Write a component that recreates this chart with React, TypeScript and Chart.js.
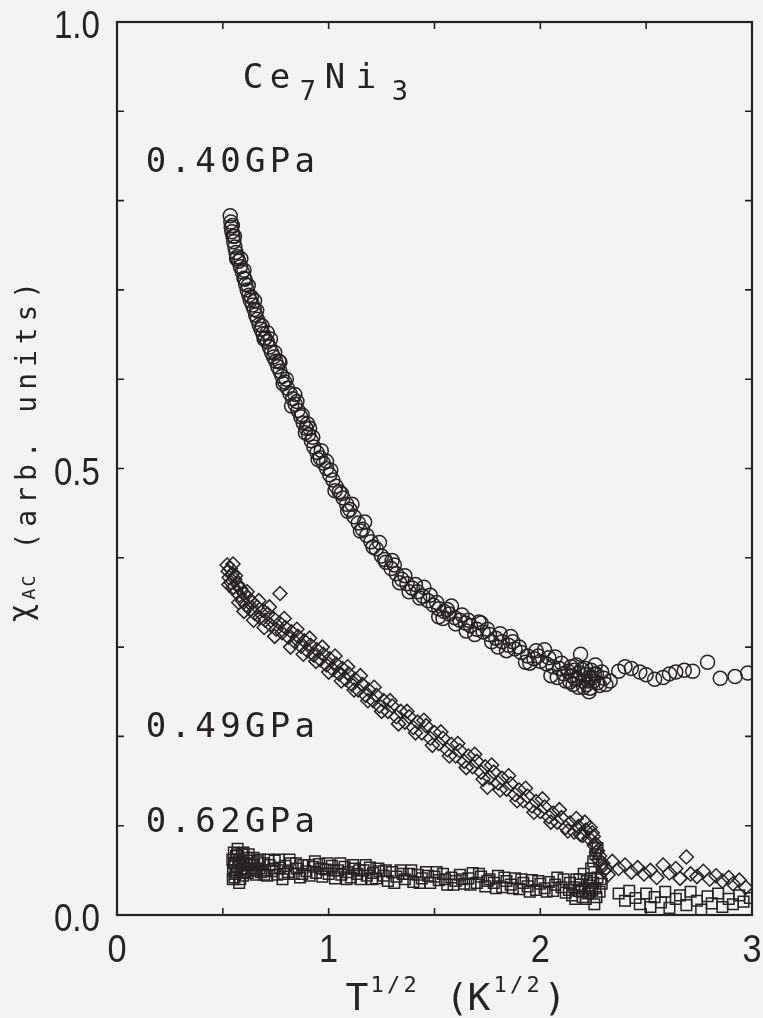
import React, { useEffect, useRef } from "react";
import { Chart, registerables } from "chart.js";
Chart.register(...registerables);

// ---- data: 0.40 GPa (circles)
const p040T = [
  0.535, 0.538, 0.540, 0.543, 0.548, 0.552, 0.557, 0.562, 0.568, 0.575, 0.583, 0.592, 0.600, 0.600, 0.608,
  0.615, 0.623, 0.630, 0.640, 0.648, 0.650, 0.655, 0.663, 0.672, 0.680, 0.690, 0.700, 0.710, 0.710, 0.720,
  0.730, 0.740, 0.750, 0.760, 0.770, 0.770, 0.780, 0.792, 0.805, 0.817, 0.830, 0.840, 0.842, 0.855, 0.868,
  0.880, 0.893, 0.900, 0.905, 0.918, 0.930, 0.945, 0.960, 0.975, 0.990, 0.990, 1.005, 1.020, 1.035, 1.050,
  1.068, 1.085, 1.100, 1.120, 1.140, 1.160, 1.180, 1.200, 1.225, 1.250, 1.270, 1.295, 1.300, 1.320, 1.345,
  1.370, 1.380, 1.395, 1.420, 1.445, 1.450, 1.470, 1.495, 1.520, 1.520, 1.545, 1.570, 1.580, 1.595, 1.620,
  1.645, 1.650, 1.670, 1.700, 1.720, 1.730, 1.760, 1.790, 1.800, 1.820, 1.850, 1.860, 1.880, 1.910, 1.930,
  1.940, 1.970, 1.980, 2.000, 2.020, 2.030, 2.050, 2.060, 2.070, 2.090, 2.110, 2.130, 2.140, 2.150, 2.160,
  2.170, 2.175, 2.185, 2.190, 2.200, 2.210, 2.220, 2.230, 2.230, 2.240, 2.250, 2.260, 2.265, 2.280, 2.300,
  2.330, 2.370, 2.400, 2.430, 2.470, 2.500, 2.540, 2.580, 2.610, 2.640, 2.680, 2.720, 2.790, 2.850, 2.920,
  2.980,
  0.545, 0.555, 0.565, 0.585, 0.605, 0.620, 0.635, 0.660, 0.685, 0.695, 0.725, 0.745, 0.765, 0.785, 0.800,
  0.825, 0.850, 0.875, 0.890, 0.910, 0.925, 0.950, 0.965, 1.010, 1.030, 1.060, 1.090, 1.110, 1.150, 1.170,
  1.210, 1.240, 1.265, 1.310, 1.335, 1.360, 1.410, 1.430, 1.480, 1.510, 1.540, 1.560, 1.600, 1.630, 1.660,
  1.690, 1.710, 1.750, 1.770, 1.810, 1.840, 1.870, 1.900, 1.950, 1.990, 2.040, 2.080, 2.100, 2.120, 2.145,
  2.155, 2.165, 2.180, 2.195, 2.205, 2.215, 2.225, 2.235, 2.245, 2.255, 2.270, 2.290, 2.310,
];
const p040Chi = [
  0.783, 0.776, 0.770, 0.765, 0.760, 0.754, 0.748, 0.742, 0.737, 0.732, 0.726, 0.720, 0.713, 0.722, 0.706,
  0.700, 0.694, 0.688, 0.683, 0.678, 0.688, 0.672, 0.667, 0.661, 0.656, 0.651, 0.646, 0.642, 0.652, 0.636,
  0.630, 0.625, 0.620, 0.614, 0.609, 0.619, 0.603, 0.597, 0.590, 0.584, 0.578, 0.583, 0.572, 0.565, 0.558,
  0.551, 0.545, 0.550, 0.538, 0.531, 0.524, 0.518, 0.512, 0.506, 0.500, 0.508, 0.493, 0.487, 0.480, 0.474,
  0.467, 0.460, 0.454, 0.446, 0.439, 0.432, 0.425, 0.418, 0.410, 0.402, 0.395, 0.388, 0.397, 0.382, 0.376,
  0.371, 0.362, 0.366, 0.362, 0.357, 0.367, 0.352, 0.347, 0.343, 0.334, 0.340, 0.337, 0.346, 0.333, 0.330,
  0.327, 0.318, 0.324, 0.320, 0.327, 0.317, 0.314, 0.310, 0.300, 0.306, 0.302, 0.312, 0.298, 0.294, 0.283,
  0.290, 0.287, 0.296, 0.284, 0.297, 0.281, 0.268, 0.278, 0.289, 0.276, 0.270, 0.273, 0.261, 0.268, 0.274,
  0.280, 0.265, 0.271, 0.292, 0.262, 0.269, 0.258, 0.266, 0.250, 0.274, 0.262, 0.280, 0.270, 0.257, 0.265,
  0.262, 0.273, 0.278, 0.276, 0.272, 0.269, 0.264, 0.266, 0.270, 0.272, 0.274, 0.273, 0.283, 0.265, 0.267,
  0.271,
  0.772, 0.760, 0.735, 0.735, 0.712, 0.705, 0.692, 0.677, 0.660, 0.645, 0.645, 0.630, 0.620, 0.595, 0.600,
  0.570, 0.575, 0.560, 0.540, 0.545, 0.535, 0.510, 0.520, 0.498, 0.475, 0.472, 0.452, 0.460, 0.430, 0.440,
  0.412, 0.417, 0.398, 0.392, 0.372, 0.380, 0.370, 0.355, 0.358, 0.350, 0.332, 0.342, 0.326, 0.336, 0.330,
  0.314, 0.328, 0.320, 0.306, 0.315, 0.296, 0.306, 0.300, 0.282, 0.290, 0.288, 0.266, 0.282, 0.262, 0.278,
  0.258, 0.264, 0.255, 0.275, 0.255, 0.276, 0.262, 0.254, 0.266, 0.270, 0.260, 0.272, 0.258,
];

// ---- data: 0.49 GPa (diamonds)
const p049T = [
  0.520, 0.525, 0.530, 0.535, 0.540, 0.545, 0.550, 0.556, 0.562, 0.570, 0.578, 0.585, 0.593, 0.600, 0.610,
  0.620, 0.630, 0.640, 0.650, 0.662, 0.675, 0.690, 0.700, 0.712, 0.725, 0.740, 0.752, 0.770, 0.768, 0.780,
  0.795, 0.810, 0.825, 0.840, 0.855, 0.870, 0.885, 0.900, 0.915, 0.930, 0.945, 0.960, 0.975, 0.990, 1.005,
  1.020, 1.035, 1.050, 1.065, 1.080, 1.095, 1.110, 1.125, 1.140, 1.160, 1.175, 1.190, 1.210, 1.225, 1.240,
  1.260, 1.280, 1.300, 1.320, 1.340, 1.360, 1.380, 1.400, 1.420, 1.440, 1.460, 1.480, 1.500, 1.520, 1.540,
  1.560, 1.580, 1.600, 1.620, 1.640, 1.660, 1.680, 1.700, 1.720, 1.740, 1.750, 1.760, 1.780, 1.800, 1.820,
  1.840, 1.860, 1.880, 1.900, 1.920, 1.940, 1.960, 1.980, 2.000, 2.020, 2.040, 2.060, 2.080, 2.100, 2.120,
  2.140, 2.160, 2.180, 2.200, 2.215, 2.230, 2.245, 2.255, 2.265, 2.275, 2.285, 2.300, 2.320, 2.340, 2.370,
  2.400, 2.430, 2.460, 2.490, 2.520, 2.550, 2.580, 2.610, 2.640, 2.660, 2.690, 2.710, 2.740, 2.770, 2.800,
  2.830, 2.860, 2.890, 2.910, 2.940, 2.970,
  0.528, 0.548, 0.560, 0.575, 0.600, 0.615, 0.645, 0.670, 0.695, 0.720, 0.745, 0.790, 0.820, 0.850, 0.880,
  0.910, 0.940, 0.970, 1.000, 1.030, 1.060, 1.090, 1.120, 1.150, 1.185, 1.215, 1.250, 1.290, 1.330, 1.370,
  1.410, 1.450, 1.490, 1.530, 1.570, 1.610, 1.650, 1.690, 1.730, 1.770, 1.810, 1.850, 1.890, 1.930, 1.970,
  2.010, 2.050, 2.090, 2.130, 2.170, 2.190, 2.210, 2.235, 2.250, 2.260, 2.270, 2.280, 2.295, 2.310,
];
const p049Chi = [
  0.392, 0.385, 0.378, 0.388, 0.372, 0.382, 0.367, 0.376, 0.362, 0.370, 0.358, 0.365, 0.352, 0.360, 0.347,
  0.355, 0.342, 0.350, 0.338, 0.345, 0.333, 0.341, 0.330, 0.337, 0.325, 0.332, 0.320, 0.360, 0.327, 0.316,
  0.322, 0.311, 0.317, 0.306, 0.312, 0.301, 0.307, 0.296, 0.302, 0.291, 0.297, 0.286, 0.292, 0.280, 0.287,
  0.275, 0.281, 0.270, 0.276, 0.264, 0.270, 0.258, 0.264, 0.252, 0.258, 0.246, 0.252, 0.240, 0.246, 0.234,
  0.240, 0.228, 0.234, 0.222, 0.228, 0.216, 0.222, 0.210, 0.216, 0.204, 0.212, 0.198, 0.204, 0.192, 0.198,
  0.185, 0.191, 0.178, 0.184, 0.172, 0.178, 0.166, 0.172, 0.160, 0.166, 0.143, 0.154, 0.160, 0.148, 0.153,
  0.141, 0.147, 0.135, 0.140, 0.128, 0.133, 0.122, 0.127, 0.116, 0.121, 0.110, 0.114, 0.104, 0.109, 0.098,
  0.103, 0.093, 0.099, 0.089, 0.095, 0.086, 0.092, 0.078, 0.070, 0.062, 0.056, 0.050, 0.045, 0.060, 0.052,
  0.056, 0.048, 0.053, 0.046, 0.050, 0.042, 0.056, 0.047, 0.052, 0.041, 0.065, 0.046, 0.043, 0.049, 0.040,
  0.044, 0.038, 0.042, 0.035, 0.039, 0.031,
  0.370, 0.393, 0.380, 0.350, 0.340, 0.362, 0.330, 0.352, 0.322, 0.345, 0.312, 0.332, 0.300, 0.320, 0.292,
  0.310, 0.284, 0.300, 0.272, 0.290, 0.262, 0.278, 0.252, 0.268, 0.240, 0.255, 0.228, 0.240, 0.214, 0.228,
  0.204, 0.218, 0.190, 0.205, 0.178, 0.192, 0.165, 0.180, 0.152, 0.168, 0.140, 0.156, 0.128, 0.142, 0.115,
  0.130, 0.104, 0.118, 0.094, 0.108, 0.090, 0.104, 0.098, 0.088, 0.080, 0.072, 0.066, 0.058, 0.052,
];

// ---- data: 0.62 GPa (squares)
const p062T = [
  0.545, 0.548, 0.552, 0.555, 0.558, 0.562, 0.565, 0.570, 0.573, 0.577, 0.580, 0.585, 0.590, 0.595, 0.600,
  0.606, 0.612, 0.618, 0.625, 0.632, 0.640, 0.648, 0.655, 0.663, 0.672, 0.680, 0.690, 0.700, 0.710, 0.720,
  0.732, 0.745, 0.757, 0.770, 0.782, 0.795, 0.808, 0.820, 0.835, 0.850, 0.865, 0.880, 0.895, 0.910, 0.925,
  0.940, 0.955, 0.970, 0.985, 1.000, 1.015, 1.030, 1.045, 1.060, 1.075, 1.090, 1.105, 1.120, 1.135, 1.150,
  1.165, 1.180, 1.195, 1.210, 1.225, 1.240, 1.260, 1.280, 1.300, 1.320, 1.340, 1.360, 1.380, 1.400, 1.420,
  1.440, 1.460, 1.480, 1.500, 1.520, 1.540, 1.560, 1.580, 1.600, 1.620, 1.640, 1.660, 1.680, 1.700, 1.720,
  1.740, 1.760, 1.780, 1.800, 1.820, 1.840, 1.860, 1.880, 1.900, 1.920, 1.940, 1.960, 1.980, 2.000, 2.020,
  2.040, 2.060, 2.080, 2.100, 2.120, 2.140, 2.150, 2.160, 2.170, 2.180, 2.190, 2.200, 2.205, 2.210, 2.220,
  2.225, 2.230, 2.240, 2.245, 2.250, 2.255, 2.260, 2.270, 2.280, 2.290, 2.240, 2.250, 2.260, 2.270, 2.370,
  2.400, 2.420, 2.450, 2.470, 2.500, 2.520, 2.540, 2.570, 2.590, 2.610, 2.640, 2.660, 2.690, 2.710, 2.740,
  2.760, 2.790, 2.810, 2.840, 2.860, 2.890, 2.910, 2.940, 2.960, 2.990,
  0.547, 0.553, 0.560, 0.567, 0.575, 0.582, 0.588, 0.598, 0.603, 0.615, 0.622, 0.635, 0.645, 0.660, 0.675,
  0.695, 0.715, 0.740, 0.765, 0.790, 0.815, 0.845, 0.875, 0.905, 0.935, 0.965, 0.995, 1.025, 1.055, 1.085,
  1.115, 1.145, 1.175, 1.205, 1.235, 1.270, 1.310, 1.350, 1.390, 1.430, 1.470, 1.510, 1.550, 1.590, 1.630,
  1.670, 1.710, 1.750, 1.790, 1.830, 1.870, 1.910, 1.950, 1.990, 2.030, 2.070, 2.110, 2.135, 2.165, 2.185,
  2.195, 2.215, 2.235, 2.265, 2.285,
];
const p062Chi = [
  0.062, 0.050, 0.070, 0.042, 0.058, 0.066, 0.048, 0.074, 0.055, 0.036, 0.062, 0.050, 0.068, 0.044, 0.058,
  0.052, 0.064, 0.047, 0.057, 0.061, 0.050, 0.056, 0.045, 0.060, 0.052, 0.048, 0.058, 0.050, 0.044, 0.056,
  0.049, 0.061, 0.045, 0.053, 0.040, 0.055, 0.048, 0.058, 0.046, 0.052, 0.042, 0.056, 0.049, 0.044, 0.054,
  0.047, 0.057, 0.043, 0.051, 0.046, 0.055, 0.041, 0.050, 0.045, 0.054, 0.048, 0.042, 0.052, 0.046, 0.040,
  0.050, 0.044, 0.053, 0.047, 0.041, 0.049, 0.044, 0.038, 0.048, 0.043, 0.050, 0.040, 0.046, 0.037, 0.045,
  0.041, 0.048, 0.036, 0.043, 0.039, 0.046, 0.034, 0.042, 0.038, 0.045, 0.035, 0.041, 0.047, 0.036, 0.043,
  0.032, 0.040, 0.036, 0.044, 0.031, 0.038, 0.034, 0.041, 0.029, 0.036, 0.032, 0.039, 0.028, 0.035, 0.030,
  0.037, 0.027, 0.042, 0.031, 0.025, 0.036, 0.022, 0.031, 0.040, 0.027, 0.034, 0.020, 0.046, 0.030, 0.038,
  0.024, 0.033, 0.041, 0.028, 0.036, 0.012, 0.030, 0.042, 0.026, 0.035, 0.052, 0.060, 0.068, 0.075, 0.024,
  0.016, 0.027, 0.019, 0.012, 0.024, 0.009, 0.020, 0.014, 0.026, 0.008, 0.018, 0.022, 0.011, 0.026, 0.016,
  0.006, 0.021, 0.013, 0.024, 0.009, 0.018, 0.012, 0.022, 0.015, 0.019,
  0.040, 0.058, 0.046, 0.068, 0.060, 0.040, 0.056, 0.070, 0.048, 0.058, 0.068, 0.052, 0.064, 0.050, 0.062,
  0.045, 0.062, 0.052, 0.062, 0.046, 0.062, 0.058, 0.046, 0.056, 0.060, 0.052, 0.058, 0.050, 0.058, 0.040,
  0.056, 0.050, 0.056, 0.040, 0.052, 0.050, 0.036, 0.046, 0.050, 0.036, 0.044, 0.048, 0.040, 0.034, 0.040,
  0.034, 0.046, 0.038, 0.030, 0.042, 0.030, 0.040, 0.026, 0.038, 0.026, 0.034, 0.040, 0.028, 0.018, 0.040,
  0.026, 0.018, 0.026, 0.020, 0.040,
];

const xTickValues = [0, 0.5, 1, 1.5, 2, 2.5, 3];
const xTickLabels = ["0", "", "1", "", "2", "", "3"];
const yTickValues = [0, 0.1, 0.2, 0.3, 0.4, 0.5, 0.6, 0.7, 0.8, 0.9, 1.0];
const yTickLabels = ["0.0", "", "", "", "", "0.5", "", "", "", "", "1.0"];
const pressureLabels = ["0.40GPa", "0.49GPa", "0.62GPa"];

const BG = "#f3f2f4";
const INK = "#272226";
const MONO = "'DejaVu Sans Mono', monospace";
const SANS = "'Liberation Sans', Arial, sans-serif";

function pts(xs: number[], ys: number[]) {
  return xs.map((x, i) => ({ x, y: ys[i] }));
}

function spaced(ctx: CanvasRenderingContext2D, text: string, cx: number, base: number, pitch: number) {
  for (let i = 0; i < text.length; i++) ctx.fillText(text[i], cx + i * pitch, base);
}

function narrow(ctx: CanvasRenderingContext2D, text: string, x: number, y: number, sx: number) {
  ctx.save();
  ctx.translate(x, y);
  ctx.scale(sx, 1);
  ctx.fillText(text, 0, 0);
  ctx.restore();
}

const decor = {
  id: "decor",
  beforeDraw(chart: any) {
    const ctx = chart.ctx as CanvasRenderingContext2D;
    ctx.save();
    ctx.fillStyle = BG;
    ctx.fillRect(0, 0, chart.width, chart.height);
    ctx.restore();
  },
  afterDatasetsDraw(chart: any) {
    const ctx = chart.ctx as CanvasRenderingContext2D;
    const a = chart.chartArea;
    const xs = chart.scales.x;
    const ys = chart.scales.y;
    ctx.save();
    ctx.strokeStyle = INK;
    ctx.fillStyle = INK;
    ctx.lineWidth = 2.2;
    ctx.strokeRect(a.left, a.top, a.right - a.left, a.bottom - a.top);
    ctx.lineWidth = 1.6;
    ctx.beginPath();
    xTickValues.forEach((v) => {
      const px = xs.getPixelForValue(v);
      ctx.moveTo(px, a.bottom);
      ctx.lineTo(px, a.bottom - 7);
      ctx.moveTo(px, a.top);
      ctx.lineTo(px, a.top + 7);
    });
    yTickValues.forEach((v) => {
      const py = ys.getPixelForValue(v);
      ctx.moveTo(a.left, py);
      ctx.lineTo(a.left + 7, py);
      ctx.moveTo(a.right, py);
      ctx.lineTo(a.right - 7, py);
    });
    ctx.stroke();

    // tick labels
    ctx.font = `39px ${SANS}`;
    ctx.textBaseline = "alphabetic";
    ctx.textAlign = "center";
    xTickValues.forEach((v, i) => {
      if (!xTickLabels[i]) return;
      narrow(ctx, xTickLabels[i], xs.getPixelForValue(v), a.bottom + 47, 0.88);
    });
    ctx.textAlign = "right";
    yTickValues.forEach((v, i) => {
      if (!yTickLabels[i]) return;
      narrow(ctx, yTickLabels[i], a.left - 17, ys.getPixelForValue(v) + 16, 0.85);
    });

    // compound name Ce7Ni3
    ctx.textAlign = "center";
    ctx.font = `34px ${MONO}`;
    ctx.fillText("C", a.left + 136, a.top + 66);
    ctx.fillText("e", a.left + 163, a.top + 66);
    ctx.fillText("N", a.left + 218, a.top + 66);
    ctx.fillText("i", a.left + 249, a.top + 66);
    ctx.font = `27px ${MONO}`;
    ctx.fillText("7", a.left + 191, a.top + 78);
    ctx.fillText("3", a.left + 283, a.top + 78);

    // pressure labels
    ctx.font = `34px ${MONO}`;
    const labelBase = [a.top + 150, a.top + 715, a.top + 810];
    pressureLabels.forEach((t, i) => spaced(ctx, t, a.left + 39, labelBase[i], 24.8));

    // x axis title
    ctx.font = `38px ${MONO}`;
    ctx.fillText("T", 357, 1010);
    ctx.fillText("(", 457, 1010);
    ctx.fillText("K", 479, 1010);
    ctx.fillText(")", 555, 1010);
    ctx.font = `22px ${MONO}`;
    spaced(ctx, "1/2", 377, 992, 16.5);
    spaced(ctx, "1/2", 500, 992, 16.5);

    // y axis title (rotated)
    ctx.save();
    ctx.translate(36, 0);
    ctx.rotate(-Math.PI / 2);
    ctx.font = `28px ${MONO}`;
    spaced(ctx, "(arb. units)", -541, 0, 22.8);
    ctx.font = `31px ${MONO}`;
    ctx.fillText("χ", -613, -5);
    ctx.font = `18px ${MONO}`;
    ctx.fillText("A", -594, -1);
    ctx.fillText("C", -581, -1);
    ctx.restore();

    ctx.restore();
  },
};

export default function App() {
  const ref = useRef<HTMLCanvasElement>(null);
  useEffect(() => {
    document.body.style.margin = "0";
    const canvas = ref.current!;
    const marker = { borderColor: INK, backgroundColor: "rgba(0,0,0,0)", borderWidth: 1.5 };
    const chart = new Chart(canvas, {
      type: "scatter",
      data: {
        datasets: [
          { label: pressureLabels[0], data: pts(p040T, p040Chi), pointStyle: "circle", pointRadius: 7, ...marker },
          { label: pressureLabels[1], data: pts(p049T, p049Chi), pointStyle: "rectRot", pointRadius: 7, ...marker },
          { label: pressureLabels[2], data: pts(p062T, p062Chi), pointStyle: "rect", pointRadius: 7.5, ...marker },
        ],
      },
      options: {
        animation: false,
        responsive: false,
        devicePixelRatio: 1,
        layout: { padding: { left: 117, top: 22, right: 11, bottom: 103 } },
        plugins: { legend: { display: false }, tooltip: { enabled: false } },
        scales: {
          x: { type: "linear", min: 0, max: 3, display: false },
          y: { type: "linear", min: 0, max: 1, display: false },
        },
      },
      plugins: [decor],
    });
    return () => chart.destroy();
  }, []);
  return <canvas ref={ref} width={763} height={1018} style={{ display: "block" }} />;
}
